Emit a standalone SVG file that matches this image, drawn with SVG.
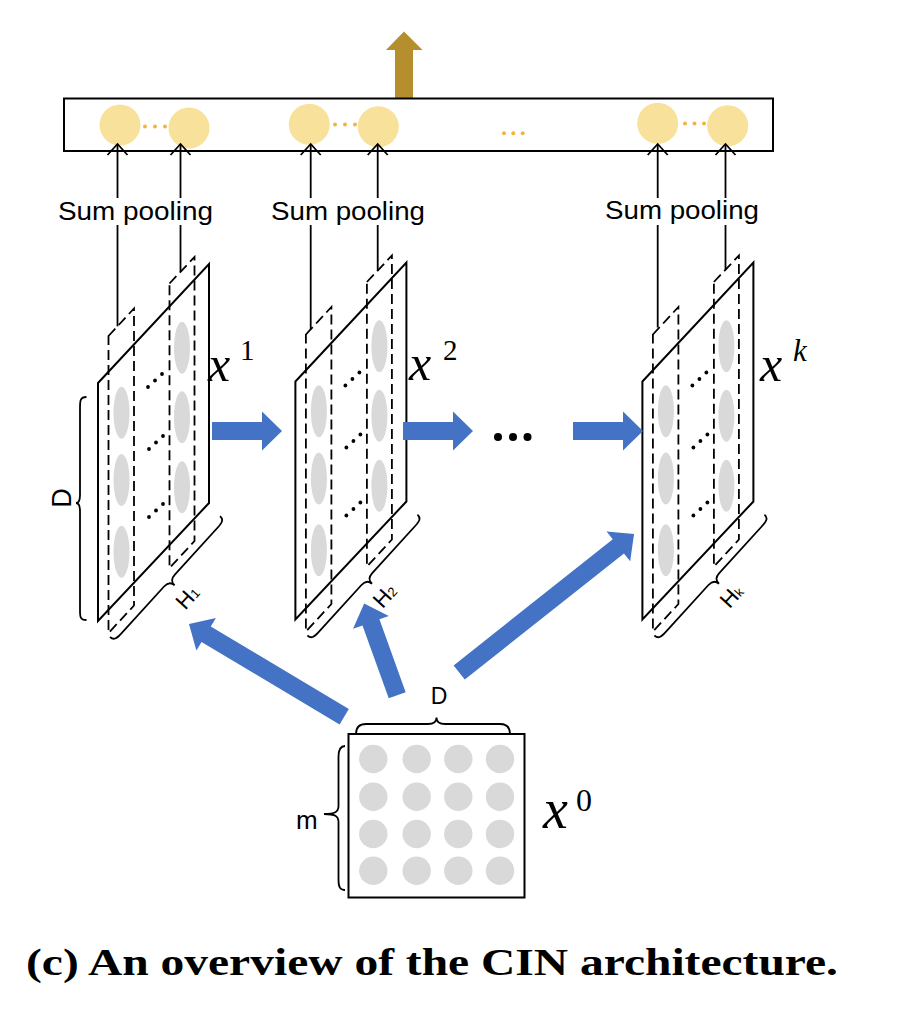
<svg xmlns="http://www.w3.org/2000/svg" xmlns:xlink="http://www.w3.org/1999/xlink" width="915" height="1024" viewBox="0 0 915 1024">
<style>
.ln{stroke:#000;stroke-width:1.8;fill:none}
.dash{stroke:#000;stroke-width:1.8;fill:none;stroke-dasharray:10 5}
.face{stroke:#000;stroke-width:2;fill:none}
.gray{fill:#D9D9D9}
.yel{fill:#F8E19A}
.org{fill:#F2B53A}
.blue{fill:#4472C4}
.sans{font-family:"Liberation Sans",Arial,sans-serif;fill:#000}
.math{font-family:"Liberation Serif","Times New Roman",serif;font-style:italic;fill:#000}
.sup{font-family:"Liberation Serif","Times New Roman",serif;fill:#000}
</style>
<defs>
<marker id="open" markerUnits="userSpaceOnUse" markerWidth="30" markerHeight="30" refX="0" refY="0" orient="auto" overflow="visible">
<path d="M-11,-10 L0,0 L-11,10" fill="none" stroke="#000" stroke-width="1.8"/>
</marker>
<g id="layerShape">
<ellipse class="gray" cx="121.5" cy="412.7" rx="8" ry="26"/>
<ellipse class="gray" cx="121.5" cy="480" rx="8" ry="26"/>
<ellipse class="gray" cx="121.5" cy="551.7" rx="8" ry="26"/>
<ellipse class="gray" cx="182" cy="347.7" rx="8" ry="26"/>
<ellipse class="gray" cx="182" cy="417.3" rx="8" ry="26"/>
<ellipse class="gray" cx="182" cy="487.3" rx="8" ry="26"/>
<path class="dash" d="M108.5,336 L134,308.5 L134,605.5 L108.5,633 Z"/>
<path class="dash" d="M169.5,283.5 L194.5,257 L194.5,541 L169.5,568 Z"/>
<g fill="#000">
<circle cx="148" cy="387" r="1.9"/><circle cx="155" cy="380.5" r="1.9"/><circle cx="162" cy="374" r="1.9"/>
<circle cx="149" cy="449" r="1.9"/><circle cx="156" cy="442.5" r="1.9"/><circle cx="163" cy="436" r="1.9"/>
<circle cx="149" cy="517" r="1.9"/><circle cx="156" cy="510.5" r="1.9"/><circle cx="163" cy="504" r="1.9"/>
</g>
<path class="face" d="M98,383 L209,264 L209,503 L98,621 Z"/>
<path class="ln" transform="translate(110,637) rotate(-47.7)" d="M0,0 C0,5 3,6 10,6 L73.75,6 C78.75,6 81.75,8 81.75,13 C81.75,8 84.75,6 89.75,6 L153.5,6 C160.5,6 163.5,5 163.5,0"/>
</g>
</defs>
<rect width="915" height="1024" fill="#fff"/>

<g id="output-arrow">
<polygon fill="#B58F2E" points="395,98 395,50 386,50 404,31.5 422.5,50 413,50 413,98"/>
</g>

<g id="output-layer">
<rect x="64" y="98.5" width="709" height="52.5" fill="#fff" stroke="#000" stroke-width="2"/>
<circle class="yel" cx="120" cy="125" r="20.5"/>
<circle class="yel" cx="189" cy="128" r="20.5"/>
<circle class="yel" cx="309.3" cy="124.3" r="20.5"/>
<circle class="yel" cx="378.3" cy="126.7" r="20.5"/>
<circle class="yel" cx="657.7" cy="123.3" r="20.5"/>
<circle class="yel" cx="727.7" cy="125.7" r="20.5"/>
<circle class="org" cx="145" cy="126.5" r="2"/><circle class="org" cx="155" cy="126.5" r="2"/><circle class="org" cx="165" cy="126.5" r="2"/>
<circle class="org" cx="335" cy="124.5" r="2"/><circle class="org" cx="345" cy="124.5" r="2"/><circle class="org" cx="355" cy="124.5" r="2"/>
<circle class="org" cx="685" cy="123.5" r="2"/><circle class="org" cx="694.5" cy="123.5" r="2"/><circle class="org" cx="704" cy="123.5" r="2"/>
<circle class="org" cx="504" cy="133.3" r="2"/><circle class="org" cx="513.3" cy="133.3" r="2"/><circle class="org" cx="522.7" cy="133.3" r="2"/>
</g>

<g id="layer1">
<use xlink:href="#layerShape" href="#layerShape"/>
<path class="ln" d="M86.5,397 C80,397 80,401 80,408 L80,495 C80,501 78,503 76,503 C78,503 80,505 80,511 L80,610 C80,617 80,620 86.5,620"/>
<text class="sans" font-size="27" transform="translate(71,498) rotate(-90)" text-anchor="middle">D</text>
<text class="sans" font-size="22" transform="translate(110,637) rotate(-47.7)" x="70" y="38">H<tspan font-size="13">1</tspan></text>
<text class="math" font-size="50" x="208" y="381">x</text>
<text class="sup" font-size="29" x="240" y="360">1</text>
</g>

<g id="layer2">
<use xlink:href="#layerShape" href="#layerShape" transform="translate(197.4,-1.5)"/>
<text class="sans" font-size="22" transform="translate(307.4,635.5) rotate(-47.7)" x="70" y="38">H<tspan font-size="13">2</tspan></text>
<text class="math" font-size="50" x="409" y="380">x</text>
<text class="sup" font-size="29" x="443" y="359.5">2</text>
</g>

<g id="layerk">
<use xlink:href="#layerShape" href="#layerShape" transform="translate(544.4,-1.5)"/>
<text class="sans" font-size="22" transform="translate(654.4,635.5) rotate(-47.7)" x="70" y="38">H<tspan font-size="13">k</tspan></text>
<text class="math" font-size="50" x="760" y="381">x</text>
<text class="math" font-size="31" x="793" y="360.5">k</text>
</g>

<g id="x0">
<rect x="348.5" y="734" width="176" height="163.5" fill="#fff" stroke="#000" stroke-width="2"/>
<g class="gray">
<circle cx="373.3" cy="759" r="14.2"/><circle cx="416.7" cy="759" r="14.2"/><circle cx="458.3" cy="759" r="14.2"/><circle cx="500" cy="759" r="14.2"/>
<circle cx="373.3" cy="796.7" r="14.2"/><circle cx="416.7" cy="796.7" r="14.2"/><circle cx="458.3" cy="796.7" r="14.2"/><circle cx="500" cy="796.7" r="14.2"/>
<circle cx="373.3" cy="834" r="14.2"/><circle cx="416.7" cy="834" r="14.2"/><circle cx="458.3" cy="834" r="14.2"/><circle cx="500" cy="834" r="14.2"/>
<circle cx="373.3" cy="870.7" r="14.2"/><circle cx="416.7" cy="870.7" r="14.2"/><circle cx="458.3" cy="870.7" r="14.2"/><circle cx="500" cy="870.7" r="14.2"/>
</g>
<path class="ln" d="M356,734 C356,727 359,724 366,724 L428,724 C434,724 436.5,722 436.5,717.5 C436.5,722 439,724 445,724 L500,724 C507,724 510,727 510,734"/>
<text class="sans" font-size="23" x="439" y="704" text-anchor="middle">D</text>
<path class="ln" d="M345,746 C340,746 338.5,750 338.5,757 L338.5,806 C338.5,812 335,814 324,814 C335,814 338.5,816 338.5,822 L338.5,880 C338.5,887 340,890 345,890"/>
<text class="sans" font-size="26" x="296" y="828.5">m</text>
<text class="math" font-size="56" x="543" y="828">x</text>
<text class="sup" font-size="32" x="576" y="811">0</text>
</g>

<g id="connectors">
<g class="ln">
<path d="M117.5,326.3 L117.5,225"/><path d="M117.5,198 L117.5,144" marker-end="url(#open)"/>
<path d="M180.5,271.8 L180.5,225"/><path d="M180.5,198 L180.5,144" marker-end="url(#open)"/>
<path d="M310.7,329.3 L310.7,225"/><path d="M310.7,198 L310.7,144" marker-end="url(#open)"/>
<path d="M377.7,270.6 L377.7,225"/><path d="M377.7,198 L377.7,144" marker-end="url(#open)"/>
<path d="M657.7,327.5 L657.7,225"/><path d="M657.7,198 L657.7,144" marker-end="url(#open)"/>
<path d="M725.5,269.7 L725.5,225"/><path d="M725.5,198 L725.5,144" marker-end="url(#open)"/>
</g>
<polygon class="blue" points="212,422 262,422 262,411.5 282,431 262,450.5 262,440 212,440"/>
<polygon class="blue" points="403,422 453,422 453,411.5 473,431 453,450.5 453,440 403,440"/>
<polygon class="blue" points="573,422 623,422 623,411.5 643,431 623,450.5 623,440 573,440"/>
<polygon class="blue" transform="translate(344.2,716.7) rotate(210.85)" points="0,-9 160.8,-9 160.8,-19 180.8,0 160.8,19 160.8,9 0,9"/>
<polygon class="blue" transform="translate(397.2,695.3) rotate(250.2)" points="0,-9 77.5,-9 77.5,-19 97.5,0 77.5,19 77.5,9 0,9"/>
<polygon class="blue" transform="translate(459.2,672.5) rotate(-38.4)" points="0,-9 203.1,-9 203.1,-19 223.1,0 203.1,19 203.1,9 0,9"/>
<g fill="#000"><circle cx="498" cy="437" r="4"/><circle cx="513" cy="437" r="4"/><circle cx="527.5" cy="437" r="4"/></g>
</g>

<g id="labels">
<text class="sans" font-size="26" x="58" y="220" textLength="155" lengthAdjust="spacingAndGlyphs">Sum pooling</text>
<text class="sans" font-size="26" x="271" y="220" textLength="154" lengthAdjust="spacingAndGlyphs">Sum pooling</text>
<text class="sans" font-size="26" x="605" y="219" textLength="154" lengthAdjust="spacingAndGlyphs">Sum pooling</text>
<text font-family="'Liberation Serif','Times New Roman',serif" font-weight="bold" font-size="38" x="26" y="975" textLength="812" lengthAdjust="spacingAndGlyphs">(c) An overview of the CIN architecture.</text>
</g>
</svg>
